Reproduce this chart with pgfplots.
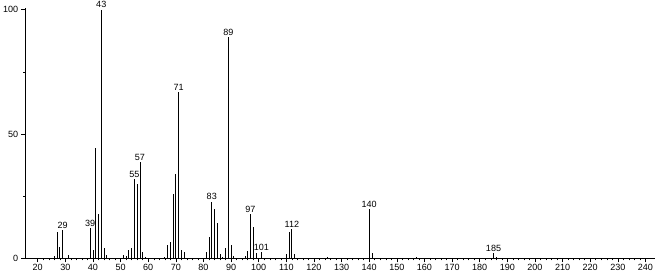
\documentclass[border=0pt]{standalone}
\usepackage{fontspec}
\setmainfont{Liberation Sans}
\usepackage{pgfplots}
\pgfplotsset{compat=1.18}
\begin{document}
\fontsize{9}{10}\selectfont
\begin{tikzpicture}
\begin{axis}[
  scale only axis,
  width=628pt, height=250pt,
  xmin=15.5, xmax=243.6, ymin=0, ymax=100.8,
  axis x line*=bottom, axis y line*=left,
  xtick={20,30,...,240}, minor x tick num=4,
  ytick={0,50,100}, minor ytick={25,75},
  tick align=outside,
  major tick length=4pt, minor tick length=2pt,
  tick style={black, line width=0.5pt},
  axis line style={black, line width=0.6pt},
  tick label style={font=\fontsize{9}{10}\selectfont},
  /pgf/number format/assume math mode=true,
  xticklabel style={yshift=1pt},
  clip=false,
]
\addplot[ycomb, black, line width=0.8pt, mark=none] table {
x y
26 1
27 10.7
28 4.8
29 11.4
30 0.3
31 1.3
39 12.1
40 3.2
41 44.4
42 17.7
43 100
44 4
45 1.5
50 0.3
51 1.2
52 1
53 3.2
54 4
55 32
56 30.1
57 38.6
58 2.4
59 0.6
66 0.5
67 5.4
68 6.8
69 25.9
70 34
71 66.8
72 3.4
73 2.7
81 2.4
82 8.5
83 22.8
84 19.8
85 14.1
86 1.8
87 0.4
88 4.3
89 89
90 5.4
91 0.9
95 1
96 3
97 17.9
98 12.5
99 2
101 2.4
102 0.3
110 1.6
111 10.5
112 11.8
113 1.9
125 0.5
140 19.9
141 2.3
157 0.5
185 2
186 0.4
};
\foreach \px/\py in {29/11.4,39/12.1,43/100,55/32,57/38.6,71/66.8,83/22.8,89/89,97/17.9,101/2.4,112/11.8,140/19.9,185/2}{
  \edef\tmp{\noexpand\node[above, inner sep=1.5pt] at (axis cs:\px,\py) {\px};}
  \tmp
}
\end{axis}
\end{tikzpicture}
\end{document}
